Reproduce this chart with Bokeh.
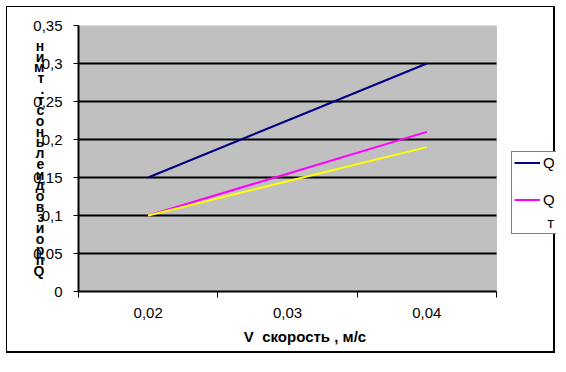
from bokeh.plotting import figure
from bokeh.models import Range1d, FixedTicker, CustomJSTickFormatter, Legend, LegendItem, BoxAnnotation
from bokeh.embed import file_html
from bokeh.resources import INLINE

# ---- data ----
x_vals = [0.02, 0.03, 0.04]
q_blue = [0.15, 0.225, 0.30]
q_magenta = [0.10, 0.155, 0.21]
q_yellow = [0.10, 0.145, 0.19]

x_start, x_end = 0.015, 0.045
y_start, y_end = 0.0, 0.35
x_label_ticks = [0.02, 0.03, 0.04]
x_boundary_ticks = [0.015, 0.025, 0.035, 0.045]
y_ticks = [0.0, 0.05, 0.10, 0.15, 0.20, 0.25, 0.30, 0.35]
y_grid = [0.05, 0.10, 0.15, 0.20, 0.25, 0.30]

x_title = "V\u00a0 скорость , м/с"
y_title_chars = ["н", "и", "м", "т", ".", "т", "с", "о", "н", "ь", "л", "е",
                 "и", "д", "о", "в", "з", "и", "о", "р", "п", "Q"]
legend_labels = ["Q", "Q"]
legend_tail = "т"

FONT = "Liberation Sans"

# layout (pixels)
W, H = 549, 347
LEFT, TOP, BOTTOM = 71, 18, 63
PLOT_W = 418  # width of the grey plot area
frame_w = W - LEFT
x_view_end = x_start + (x_end - x_start) * frame_w / PLOT_W

p = figure(width=W, height=H, output_backend="svg", toolbar_location=None,
           x_range=Range1d(x_start, x_view_end), y_range=Range1d(y_start, y_end),
           min_border_left=LEFT, min_border_right=0, min_border_top=TOP, min_border_bottom=BOTTOM)
p.styles = {"margin-left": "6px", "margin-top": "6px",
            "border-left": "1px solid black", "border-top": "1px solid black",
            "border-right": "2px solid black", "border-bottom": "2px solid black"}

p.background_fill_color = "white"
p.border_fill_color = "white"
p.outline_line_color = None

# grey plot area
p.add_layout(BoxAnnotation(left=x_start, right=x_end, bottom=y_start, top=y_end,
                           fill_color="#c0c0c0", fill_alpha=1,
                           line_color="#808080", line_width=1, level="image"))

fmt = CustomJSTickFormatter(code="return String(Math.round(tick*1000)/1000).replace('.', ',');")

# x axis
p.xaxis.bounds = (x_start, x_end)
p.xaxis.ticker = FixedTicker(ticks=x_label_ticks, minor_ticks=x_boundary_ticks)
p.xaxis.formatter = fmt
p.xaxis.major_tick_out = 0
p.xaxis.major_tick_in = 0
p.xaxis.minor_tick_out = 6
p.xaxis.minor_tick_in = 0
p.xaxis.minor_tick_line_color = "black"
p.xaxis.minor_tick_line_width = 1
p.xaxis.major_label_standoff = 10
# trailing no-break spaces keep the title centred under the grey area
p.xaxis.axis_label = x_title + "\u00a0" * 6
p.xaxis.axis_label_standoff = 7
p.xaxis.axis_label_text_font = FONT
p.xaxis.axis_label_text_font_style = "bold"
p.xaxis.axis_label_text_font_size = "15px"
p.xaxis.axis_label_text_color = "black"

# y axis
p.yaxis.ticker = FixedTicker(ticks=y_ticks, minor_ticks=[])
p.yaxis.formatter = fmt
p.yaxis.major_tick_out = 5
p.yaxis.major_tick_in = 0
p.yaxis.major_label_standoff = 11
p.yaxis.axis_label = "\n".join(y_title_chars)
p.yaxis.axis_label_orientation = "horizontal"
p.yaxis.axis_label_standoff = -14
p.yaxis.axis_label_text_font = FONT
p.yaxis.axis_label_text_font_style = "bold"
p.yaxis.axis_label_text_font_size = "14px"
p.yaxis.axis_label_text_color = "black"
p.yaxis.axis_label_text_line_height = 0.67

for ax in (p.xaxis, p.yaxis):
    ax.axis_line_color = "black"
    ax.axis_line_width = 2
    ax.major_tick_line_color = "black"
    ax.major_tick_line_width = 1
    ax.major_label_text_font = FONT
    ax.major_label_text_font_size = "15px"
    ax.major_label_text_color = "black"

# horizontal gridlines only across the grey area
p.xgrid.visible = False
p.ygrid.visible = False
p.segment(x0=[x_start] * len(y_grid), x1=[x_end] * len(y_grid), y0=y_grid, y1=y_grid,
          line_color="black", line_width=2)

# series
r_blue = p.line(x_vals, q_blue, line_color="#000080", line_width=2)
r_mag = p.line(x_vals, q_magenta, line_color="#ff00ff", line_width=2)
r_yel = p.line(x_vals, q_yellow, line_color="#ffff00", line_width=2)

legend = Legend(
    items=[LegendItem(label=legend_labels[0], renderers=[r_blue]),
           LegendItem(label=legend_labels[1], renderers=[r_mag])],
    location=(433, 57),
    title="\u00a0" * 8 + legend_tail,
    title_location="below",
    title_standoff=6,
    title_text_font=FONT, title_text_font_size="15px", title_text_font_style="normal",
    title_text_color="black",
    label_text_font=FONT, label_text_font_size="15px", label_text_color="black",
    glyph_width=26, glyph_height=17, label_height=17, label_standoff=3,
    spacing=20, padding=2, margin=0,
    border_line_color="black", border_line_width=1,
    background_fill_color="white", background_fill_alpha=1,
)
p.add_layout(legend, "center")

open("out.html", "w").write(file_html(p, INLINE))
